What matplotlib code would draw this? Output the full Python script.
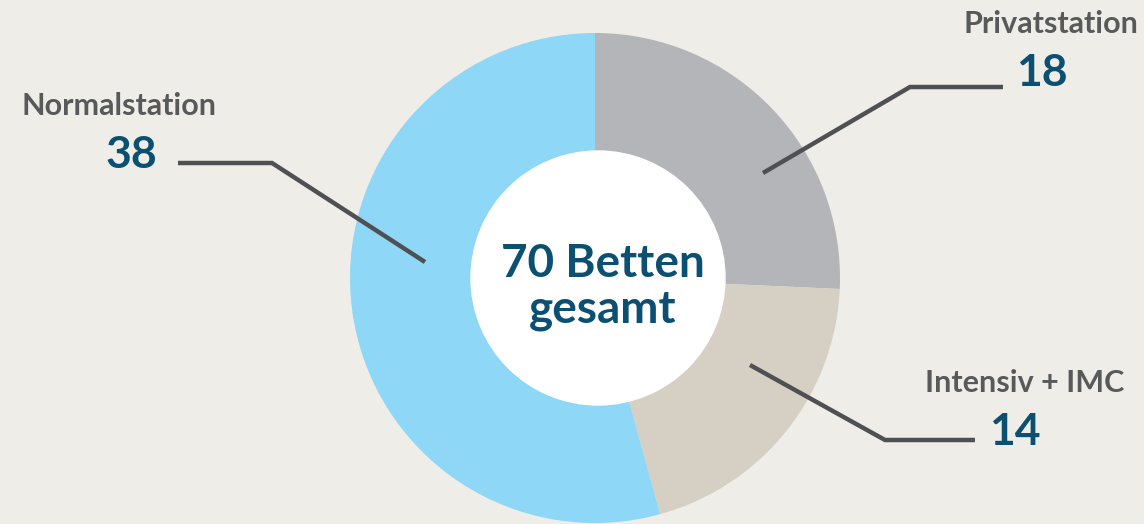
import matplotlib.pyplot as plt
from matplotlib.patches import Circle

plt.rcParams['font.family'] = ['Lato', 'DejaVu Sans']

labels = ['Privatstation', 'Intensiv + IMC', 'Normalstation']
values = [18, 14, 38]
colors = ['#b4b5b9', '#d5cfc4', '#8ed7f6']
total_text = '70 Betten\ngesamt'

W, H = 1144, 524
BG = '#eeede8'
BLUE = '#0b4f71'
GREY = '#58595b'
LINE = '#4f5053'

fig = plt.figure(figsize=(W / 100, H / 100), dpi=100, facecolor=BG)
ax = fig.add_axes([0, 0, 1, 1])
ax.set_facecolor(BG)

def y(py):
    return H - py

cx, cy = 595, y(278)
ax.pie(values, colors=colors, startangle=90, counterclock=False,
       radius=245, center=(cx, cy), wedgeprops=dict(linewidth=0))
ax.add_patch(Circle((cx + 3, cy), 127, color='white', zorder=3))
ax.text(cx + 8, y(287), total_text, ha='center', va='center', fontsize=33,
        fontweight='bold', color=BLUE, linespacing=1.1, zorder=4)

# leader lines (pixel positions)
leaders = [
    [(178, 163), (272, 163), (425, 262)],
    [(1003, 87), (910, 87), (763, 173)],
    [(975, 440), (885, 440), (750, 365)],
]
for pts in leaders:
    ax.plot([p[0] for p in pts], [y(p[1]) for p in pts], color=LINE, lw=3.2,
            solid_capstyle='butt', solid_joinstyle='miter', zorder=5)

# labels and numbers
ax.text(22, y(106), labels[2], ha='left', va='center', fontsize=22,
        fontweight='bold', color=GREY)
ax.text(131, y(155), str(values[2]), ha='center', va='center', fontsize=32,
        fontweight='bold', color=BLUE)
ax.text(1138, y(24), labels[0], ha='right', va='center', fontsize=22,
        fontweight='bold', color=GREY)
ax.text(1042, y(73), str(values[0]), ha='center', va='center', fontsize=32,
        fontweight='bold', color=BLUE)
ax.text(1124, y(383), labels[1], ha='right', va='center', fontsize=22,
        fontweight='bold', color=GREY)
ax.text(1015, y(432), str(values[1]), ha='center', va='center', fontsize=32,
        fontweight='bold', color=BLUE)

ax.set_xlim(0, W)
ax.set_ylim(0, H)
ax.set_aspect('equal')
ax.axis('off')

fig.savefig('out.png', dpi=100, facecolor=BG)
